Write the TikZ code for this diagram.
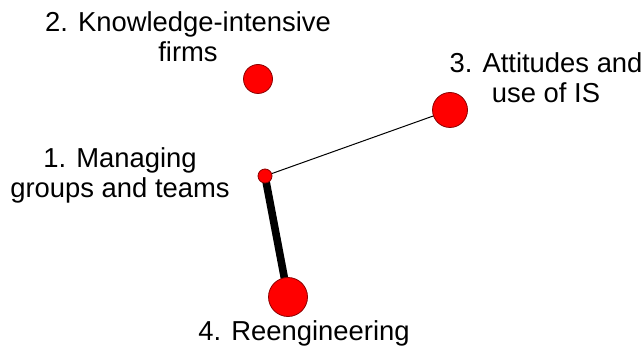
\documentclass[tikz,border=0pt]{standalone}
\usepackage{fontspec}
\setmainfont{Liberation Sans}
\usetikzlibrary{backgrounds}
\begin{document}
\begin{tikzpicture}[
        x=0.5pt,
        y=-0.5pt,
        topic/.style={
            circle,
            draw=red!55!black,
            fill=red,
            line width=0.4pt,
            inner sep=0pt
        },
        caption/.style={
            align=center,
            inner sep=0pt,
            font=\fontsize{13.7}{15}\selectfont
        },
        weak/.style={
            line width=0.5pt
        },
        strong/.style={
            line width=3.8pt
        }
    ]
        \useasboundingbox (0,0) rectangle (642,352);

        \node[topic, minimum size=7pt] (managing) at (265,176) {};
        \node[topic, minimum size=14.5pt] (knowledge) at (258,79) {};
        \node[topic, minimum size=17.5pt] (attitudes) at (450,110) {};
        \node[topic, minimum size=19.5pt] (reeng) at (288,297) {};

        \node[caption, anchor=base] (managinglabel) at (120,198) {1. Managing\\groups and teams};
        \node[caption, anchor=base] (knowledgelabel) at (188,62) {2. Knowledge-intensive\\firms};
        \node[caption, anchor=base] (attitudeslabel) at (546,103) {3. Attitudes and\\use of IS};
        \node[caption, anchor=base] (reenglabel) at (304,340) {4. Reengineering};

        \begin{scope}[on background layer]
            \draw[weak] (managing.center) -- (attitudes.center);
            \draw[strong] (managing.center) -- (reeng.center);
        \end{scope}

    \end{tikzpicture}
\end{document}
